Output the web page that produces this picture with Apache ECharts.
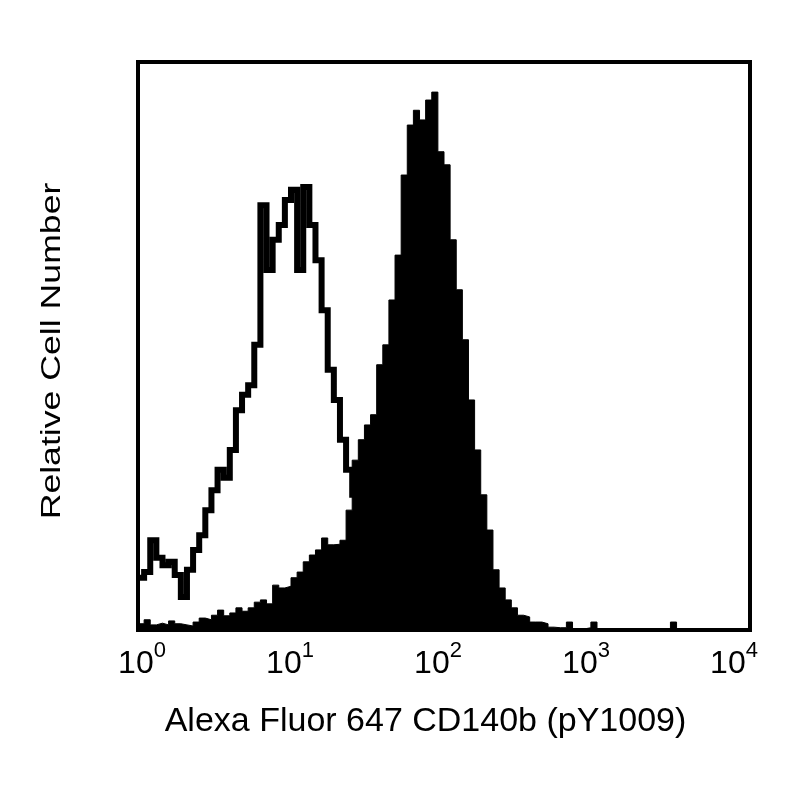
<!DOCTYPE html>
<html><head><meta charset="utf-8">
<script src="https://cdn.jsdelivr.net/npm/echarts/dist/echarts.min.js"></script>
<style>html,body{margin:0;padding:0;background:#fff}#c{width:800px;height:800px}</style>
</head><body><div id="c"></div>
<script>
// channel width in decades of fluorescence (100 channels over 4 decades)
const BIN = 0.04;
const decades = [0, 1, 2, 3, 4];
const xTitle = 'Alexa Fluor 647 CD140b (pY1009)';
const yTitle = 'Relative Cell Number';

// stained sample (filled histogram), relative counts per channel
const stained = [
  1.1,1.8,0.9,1.2,0.9,1.6,1.1,0.9,0.7,1.4,
  2.1,1.8,2.6,3.5,2.5,3.0,3.9,3.3,3.9,4.9,
  5.3,4.6,7.9,7.4,7.7,9.2,10.2,12.0,13.2,14.1,
  16.2,15.0,15.1,15.8,21.1,29.9,33.5,36.1,37.9,46.7,
  50.2,58.1,66.0,80.1,88.9,91.5,89.8,93.3,94.7,84.2,
  81.9,68.7,59.9,51.1,40.5,31.7,23.8,17.6,10.6,7.4,
  5.3,3.9,2.6,2.3,1.4,1.4,1.1,0.5,0.4,0.4,
  1.4,0.2,0.2,0.4,1.4,0.2,0,0,0,0,
  0,0,0,0,0,0,0,1.4,0,0,
  0,0,0,0,0,0,0,0,0,0
];

// isotype control (open histogram), relative counts per channel
// (visible part only; beyond channel 35 it lies under the stained histogram)
const isotype = [
  9.2,10.2,15.8,12.7,11.4,12.0,9.7,5.8,10.6,14.1,
  16.7,21.1,24.6,28.2,26.8,31.7,38.7,41.4,43.1,50.2,
  74.8,63.4,68.7,71.3,75.7,77.5,63.4,78.0,71.3,65.1,
  56.3,45.8,40.5,33.5,28.2,23.8
];

function toSteps(arr, closeToZero) {
  const pts = arr.map((v, i) => [i * BIN, v]);
  pts.push([arr.length * BIN, closeToZero ? 0 : arr[arr.length - 1]]);
  return pts;
}

const FONT = '"Liberation Sans", Arial, Helvetica, sans-serif';
const chart = echarts.init(document.getElementById('c'), null, {renderer: 'canvas'});
chart.setOption({
  animation: false,
  backgroundColor: '#fff',
  grid: [
    {left: 138, right: 50, top: 62, bottom: 170, show: true, borderColor: '#000', borderWidth: 4, backgroundColor: 'transparent'},
    {left: 142, right: 66, top: 62, bottom: 170, show: false}
  ],
  xAxis: [
    {gridIndex: 0, type: 'value', min: 0, max: 4, show: false},
    {
      gridIndex: 1, type: 'value', min: 0, max: 4, interval: 1,
      axisLine: {show: false}, axisTick: {show: false}, splitLine: {show: false},
      axisLabel: {
        margin: 10, showMinLabel: true, showMaxLabel: true,
        formatter: v => '{b|10}{s|' + decades[v] + '}',
        rich: {
          b: {fontSize: 32, fontFamily: FONT, color: '#000', lineHeight: 40, verticalAlign: 'bottom'},
          s: {fontSize: 22, fontFamily: FONT, color: '#000', lineHeight: 22, verticalAlign: 'top'}
        }
      },
      name: xTitle, nameLocation: 'middle', nameGap: 75,
      nameTextStyle: {fontSize: 34, fontFamily: FONT, color: '#000', padding: [0, 25, 0, 0]}
    }
  ],
  yAxis: [
    {gridIndex: 0, type: 'value', min: 0, max: 100, show: false},
    {gridIndex: 1, type: 'value', min: 0, max: 1, show: false}
  ],
  graphic: [{
    type: 'text', x: 53, y: 351, rotation: Math.PI / 2, scaleX: 1.32,
    style: {text: yTitle, font: '27px ' + FONT, fill: '#000', textAlign: 'center', textVerticalAlign: 'middle', align: 'center', verticalAlign: 'middle'}
  }],
  series: [
    {
      type: 'line', xAxisIndex: 0, yAxisIndex: 0, step: 'end', showSymbol: false, symbol: 'none',
      data: toSteps(stained, true),
      lineStyle: {color: '#000', width: 1},
      areaStyle: {color: '#000', opacity: 1}
    },
    {
      type: 'line', xAxisIndex: 0, yAxisIndex: 0, step: 'end', showSymbol: false, symbol: 'none',
      data: toSteps(isotype, false),
      lineStyle: {color: '#000', width: 6, join: 'miter', cap: 'butt'}
    }
  ]
});
</script>
</body></html>
